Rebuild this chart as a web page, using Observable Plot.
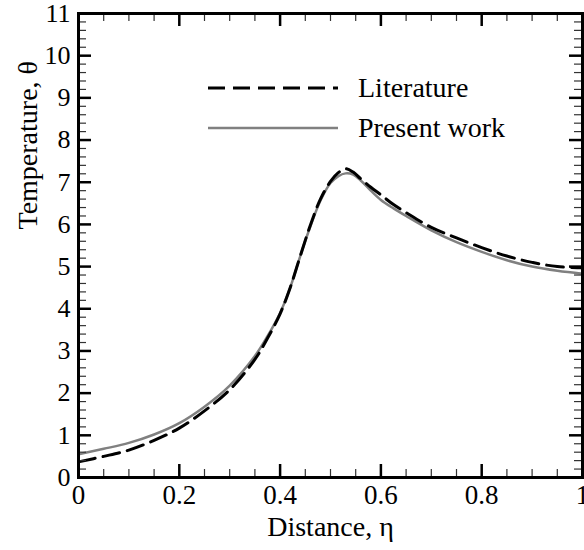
<!DOCTYPE html>
<html><head><meta charset="utf-8">
<script src="https://cdn.jsdelivr.net/npm/d3@7"></script>
<script src="https://cdn.jsdelivr.net/npm/@observablehq/plot@0.6"></script>
<style>
html,body{margin:0;padding:0;background:#fff;}
#chart{position:relative;width:584px;height:550px;}
</style></head><body><div id="chart"></div>
<script>
// Distance eta
const eta = [0, 0.05, 0.1, 0.15, 0.2, 0.25, 0.3, 0.35, 0.375, 0.4, 0.42, 0.44, 0.46, 0.48, 0.5, 0.515, 0.53, 0.545, 0.56, 0.58, 0.6, 0.625, 0.65, 0.7, 0.75, 0.8, 0.85, 0.9, 0.95, 1.0];
// Temperature theta
const thetaLiterature = [0.37, 0.5, 0.65, 0.88, 1.17, 1.58, 2.08, 2.8, 3.3, 3.88, 4.5, 5.25, 5.98, 6.6, 7.02, 7.22, 7.32, 7.24, 7.08, 6.88, 6.7, 6.47, 6.28, 5.93, 5.68, 5.45, 5.25, 5.1, 5.0, 4.97];
const thetaPresent    = [0.55, 0.68, 0.82, 1.02, 1.29, 1.68, 2.18, 2.88, 3.35, 3.9, 4.5, 5.25, 5.95, 6.56, 6.98, 7.14, 7.21, 7.18, 7.04, 6.8, 6.58, 6.38, 6.2, 5.86, 5.58, 5.35, 5.15, 5.0, 4.9, 4.83];
const seriesNames = ["Literature", "Present work"];
const xMajorTicks = [0, 0.2, 0.4, 0.6, 0.8, 1];
const xMinorTicks = [0.05, 0.1, 0.15, 0.25, 0.3, 0.35, 0.45, 0.5, 0.55, 0.65, 0.7, 0.75, 0.85, 0.9, 0.95];
const yMajorTicks = [0, 1, 2, 3, 4, 5, 6, 7, 8, 9, 10, 11];
const yMinorTicks = d3.range(0, 11.0001, 0.2).filter(v => Math.abs(v - Math.round(v)) > 1e-6);
const xTitle = "Distance, η";
const yTitle = "Temperature, θ";

const rowsLit = eta.map((e, i) => ({eta: e, theta: thetaLiterature[i], series: seriesNames[0]}));
const rowsPres = eta.map((e, i) => ({eta: e, theta: thetaPresent[i], series: seriesNames[1]}));

const fontFamily = "Liberation Serif, Times New Roman, Times, serif";
const W = 584, H = 550, ML = 78, MR = 2, MT = 13, MB = 73;
const FW = W - ML - MR, FH = H - MT - MB;
const MAJ = 13, MIN = 8;

function ticksX(ticks, len, sw, color) {
  return [
    Plot.ruleX(ticks, {x: d => d, insetTop: FH - len, stroke: color, strokeWidth: sw}),
    Plot.ruleX(ticks, {x: d => d, insetBottom: FH - len, stroke: color, strokeWidth: sw})
  ];
}
function ticksY(ticks, len, sw, color) {
  return [
    Plot.ruleY(ticks, {y: d => d, insetRight: FW - len, stroke: color, strokeWidth: sw}),
    Plot.ruleY(ticks, {y: d => d, insetLeft: FW - len, stroke: color, strokeWidth: sw})
  ];
}

const plot = Plot.plot({
  width: W, height: H,
  marginLeft: ML, marginRight: MR, marginTop: MT, marginBottom: MB,
  style: {fontFamily: fontFamily, fontSize: "26px", background: "white"},
  x: {domain: [0, 1], axis: null},
  y: {domain: [0, 11], axis: null},
  marks: [
    Plot.line(rowsPres, {x: "eta", y: "theta", stroke: "#808080", strokeWidth: 2.5, curve: "catmull-rom"}),
    Plot.line(rowsLit, {x: "eta", y: "theta", stroke: "black", strokeWidth: 3, strokeDasharray: "17,8", curve: "catmull-rom"}),
    ...ticksX(xMinorTicks, MIN, 1.2, "#333"),
    ...ticksY(yMinorTicks, MIN, 1.2, "#333"),
    ...ticksX(xMajorTicks, MAJ, 2.5, "black"),
    ...ticksY(yMajorTicks, MAJ, 2.5, "black"),
    // tick labels
    Plot.text(xMajorTicks, {x: d => d, frameAnchor: "bottom", dy: 7, lineAnchor: "top", text: d => String(d), fontSize: 27, fill: "black"}),
    Plot.text(yMajorTicks, {y: d => d, frameAnchor: "left", dx: -8, textAnchor: "end", lineAnchor: "middle", text: d => String(d), fontSize: 26, fill: "black"}),
    // axis titles
    Plot.text([xTitle], {frameAnchor: "bottom", dy: 50, lineAnchor: "middle", fontSize: 28, fill: "black"}),
    Plot.text([yTitle], {frameAnchor: "left", dx: -50, dy: -16, rotate: -90, lineAnchor: "middle", fontSize: 28, fill: "black"}),
    Plot.frame({stroke: "black", strokeWidth: 3})
  ]
});
const chart = document.getElementById("chart");
chart.appendChild(plot);

// legend (drawn into the plot's own svg)
const ns = "http://www.w3.org/2000/svg";
const leg = document.createElementNS(ns, "g");
const legendStyles = [
  {stroke: "black", width: 3, dash: "17,8"},
  {stroke: "#808080", width: 2.5, dash: null}
];
seriesNames.forEach((name, i) => {
  const y = 88 + i * 40;
  const ln = document.createElementNS(ns, "line");
  ln.setAttribute("x1", 208); ln.setAttribute("x2", 338);
  ln.setAttribute("y1", y); ln.setAttribute("y2", y);
  ln.setAttribute("stroke", legendStyles[i].stroke);
  ln.setAttribute("stroke-width", legendStyles[i].width);
  if (legendStyles[i].dash) ln.setAttribute("stroke-dasharray", legendStyles[i].dash);
  leg.appendChild(ln);
  const tx = document.createElementNS(ns, "text");
  tx.setAttribute("x", 358); tx.setAttribute("y", y + 9);
  tx.setAttribute("font-size", 28);
  tx.setAttribute("font-family", fontFamily);
  tx.setAttribute("text-anchor", "start");
  tx.setAttribute("fill", "black");
  tx.textContent = name;
  leg.appendChild(tx);
});
plot.appendChild(leg);
</script></body></html>
